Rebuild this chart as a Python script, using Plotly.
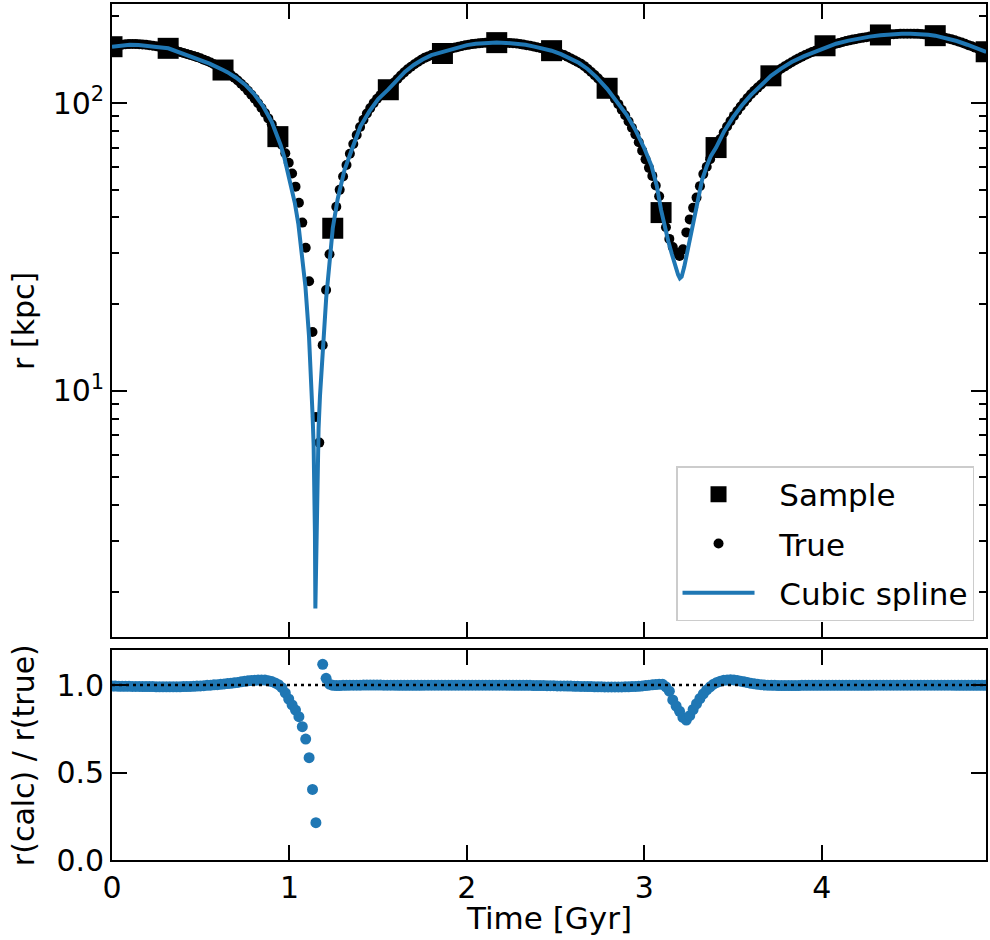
import numpy as np
import plotly.graph_objects as go

# ---------------- data ----------------
# sampled orbit points (squares)
sample_t = [0.000, 0.3165, 0.6256, 0.9348, 1.244, 1.557, 1.862, 2.168, 2.477,
            2.790, 3.094, 3.404, 3.713, 4.018, 4.330, 4.639, 4.926]
sample_r = [156.9, 154.9, 130.2, 76.4, 36.7, 111.2, 148.6, 162.1, 152.0,
            112.5, 41.6, 70.0, 124.3, 158.1, 172.4, 171.4, 150.7]

# true orbit radius at the (uniform) simulation output times
true_r = [
    158.0, 158.5, 159.0, 159.5, 160.0, 160.2, 160.3, 160.2, 160.0, 159.7,
    159.3, 158.8, 158.1, 157.4, 156.7, 155.9, 155.0, 154.0, 152.9, 151.7,
    150.5, 149.3, 148.1, 146.9, 145.7, 144.4, 143.0, 141.5, 139.9, 138.2,
    136.4, 134.5, 132.4, 130.1, 127.7, 125.2, 122.5, 119.7, 116.7, 113.6,
    110.3, 106.9, 103.4, 99.8, 96.1, 92.3, 88.4, 84.4, 80.3, 76.1,
    71.6, 66.9, 62.0, 56.9, 51.2, 45.0, 38.4, 31.4, 24.0, 16.0,
    8.1, 6.6, 14.4, 22.4, 29.8, 36.7, 43.6, 49.9, 55.5, 60.9,
    66.6, 72.0, 77.4, 82.5, 87.4, 91.9, 96.0, 99.9, 103.4, 106.5,
    109.4, 111.5, 114.4, 117.8, 121.2, 124.6, 127.8, 130.9, 133.7, 136.3,
    138.8, 141.4, 143.5, 145.2, 146.7, 148.3, 149.8, 151.2, 152.4, 153.6,
    154.7, 155.8, 156.8, 157.8, 158.7, 159.4, 160.2, 160.7, 161.2, 161.7,
    162.0, 162.1, 162.2, 162.2, 162.2, 162.0, 161.8, 161.6, 161.4, 160.9,
    160.3, 159.6, 158.9, 158.1, 157.2, 156.2, 155.2, 154.2, 153.4, 152.1,
    150.7, 149.3, 147.9, 146.7, 144.9, 142.9, 140.9, 138.8, 136.9, 134.3,
    131.2, 128.2, 125.0, 121.8, 118.5, 115.1, 111.4, 107.4, 103.3, 99.1,
    94.8, 90.6, 86.3, 82.0, 77.8, 73.0, 68.3, 63.7, 59.5, 55.8,
    51.7, 47.4, 42.6, 37.0, 33.7, 31.6, 30.2, 29.4, 31.0, 35.5,
    39.4, 43.2, 46.9, 51.4, 56.6, 60.0, 63.8, 67.4, 71.0, 75.0,
    78.9, 82.8, 86.5, 90.2, 93.8, 97.3, 100.7, 104.0, 107.2, 110.2,
    113.1, 116.0, 118.9, 121.6, 124.3, 126.9, 129.4, 131.8, 134.1, 136.3,
    138.6, 140.8, 142.9, 144.9, 146.8, 148.6, 150.3, 151.9, 153.5, 155.0,
    156.5, 158.0, 159.3, 160.6, 161.8, 163.0, 164.1, 165.1, 166.1, 167.0,
    167.9, 168.7, 169.4, 170.1, 170.8, 171.4, 171.9, 172.4, 172.8, 173.2,
    173.5, 173.8, 174.0, 174.1, 174.2, 174.2, 174.1, 173.9, 173.6, 173.2,
    172.7, 172.1, 171.4, 170.6, 169.7, 168.7, 167.6, 166.4, 165.1, 163.7,
    162.2, 160.6, 158.9, 157.5, 155.8, 154.0, 152.2, 150.4,
]

# r(calc)/r(true) at the same output times
ratio = [
    0.994, 0.994, 0.993, 0.993, 0.993, 0.993, 0.992, 0.992, 0.992, 0.991,
    0.991, 0.991, 0.991, 0.990, 0.990, 0.990, 0.990, 0.990, 0.990, 0.990,
    0.990, 0.991, 0.991, 0.992, 0.993, 0.994, 0.995, 0.996, 0.998, 0.999,
    1.001, 1.002, 1.004, 1.006, 1.008, 1.010, 1.013, 1.015, 1.018, 1.021,
    1.024, 1.026, 1.027, 1.028, 1.029, 1.028, 1.025, 1.020, 1.012, 1.002,
    0.985, 0.955, 0.920, 0.886, 0.857, 0.819, 0.762, 0.691, 0.585, 0.403,
    0.213, 1.350, 1.118, 1.038, 1.005, 0.998, 0.997, 0.997, 0.998, 0.998,
    0.999, 0.999, 0.999, 0.999, 1.000, 1.000, 1.000, 1.000, 1.000, 1.000,
    0.999, 0.999, 0.999, 0.999, 0.998, 0.998, 0.998, 0.998, 0.998, 0.998,
    0.998, 0.998, 0.999, 0.999, 0.999, 0.999, 0.999, 0.999, 0.999, 0.999,
    0.999, 0.999, 0.999, 0.999, 0.999, 0.999, 0.999, 0.999, 0.999, 0.999,
    0.999, 0.999, 0.999, 0.999, 0.999, 0.999, 0.999, 0.999, 0.998, 0.998,
    0.998, 0.998, 0.998, 0.998, 0.997, 0.997, 0.997, 0.997, 0.996, 0.996,
    0.996, 0.995, 0.995, 0.995, 0.994, 0.994, 0.993, 0.993, 0.992, 0.992,
    0.991, 0.991, 0.990, 0.990, 0.990, 0.989, 0.989, 0.989, 0.989, 0.989,
    0.989, 0.990, 0.990, 0.991, 0.992, 0.993, 0.995, 0.997, 0.999, 1.001,
    1.003, 1.005, 1.004, 0.990, 0.965, 0.915, 0.880, 0.850, 0.815, 0.800,
    0.825, 0.860, 0.893, 0.923, 0.950, 0.972, 0.990, 1.005, 1.015, 1.022,
    1.027, 1.029, 1.030, 1.029, 1.026, 1.022, 1.018, 1.014, 1.010, 1.007,
    1.004, 1.002, 1.000, 0.999, 0.998, 0.998, 0.997, 0.997, 0.997, 0.997,
    0.997, 0.997, 0.997, 0.998, 0.998, 0.998, 0.998, 0.998, 0.998, 0.998,
    0.998, 0.998, 0.998, 0.998, 0.998, 0.998, 0.998, 0.998, 0.998, 0.998,
    0.998, 0.998, 0.998, 0.998, 0.999, 0.999, 0.999, 0.999, 0.999, 0.999,
    0.999, 0.999, 0.999, 0.999, 0.999, 0.999, 0.999, 0.999, 0.999, 0.999,
    0.999, 0.999, 0.999, 0.999, 0.999, 0.999, 0.999, 0.999, 0.998, 0.998,
    0.998, 0.998, 0.998, 0.998, 0.998, 0.998, 0.998, 0.998,
]

# uniform output cadence of the simulation (first to last output time)
time = np.linspace(0.0, 4.9216, len(true_r))

# cubic-spline curve as drawn in the picture
spline_t = [0.000, 0.050, 0.100, 0.150, 0.200, 0.250, 0.317, 0.350, 0.400, 0.450,
            0.500, 0.550, 0.626, 0.650, 0.700, 0.750, 0.800, 0.850, 0.900, 0.935,
            0.950, 0.970, 0.990, 1.010, 1.030, 1.050, 1.070, 1.090, 1.110, 1.120,
            1.130, 1.136, 1.140, 1.1435, 1.146, 1.1525, 1.158, 1.164, 1.172, 1.183,
            1.193, 1.207, 1.225, 1.244, 1.272, 1.310, 1.350, 1.400, 1.450, 1.500,
            1.557, 1.600, 1.650, 1.700, 1.750, 1.800, 1.862, 1.900, 1.950, 2.000,
            2.050, 2.100, 2.168, 2.220, 2.280, 2.330, 2.380, 2.430, 2.477, 2.530,
            2.580, 2.630, 2.680, 2.730, 2.790, 2.850, 2.900, 2.950, 3.000, 3.040,
            3.070, 3.094, 3.115, 3.135, 3.155, 3.175, 3.190, 3.200, 3.210, 3.225,
            3.240, 3.260, 3.280, 3.300, 3.325, 3.350, 3.375, 3.404, 3.450, 3.500,
            3.550, 3.600, 3.650, 3.713, 3.770, 3.830, 3.900, 3.960, 4.018, 4.080,
            4.150, 4.210, 4.270, 4.330, 4.390, 4.450, 4.500, 4.550, 4.600, 4.639,
            4.700, 4.760, 4.820, 4.870, 4.926]
spline_r = [157.0, 158.5, 159.3, 159.2, 158.3, 156.6, 154.9, 152.3, 148.3, 144.6,
            141.0, 137.0, 130.2, 128.0, 122.4, 115.8, 107.6, 97.8, 86.0, 76.4,
            71.5, 65.0, 58.0, 51.5, 45.0, 38.0, 30.5, 23.0, 15.5, 11.8,
            8.3, 6.5, 5.0, 3.2, 1.75, 3.2, 5.4, 7.4, 9.6, 12.8,
            16.0, 21.0, 27.5, 36.7, 46.5, 58.5, 68.5, 83.0, 93.5, 103.2,
            111.5, 119.5, 128.3, 135.6, 141.7, 146.6, 150.3, 153.6, 156.6, 158.9,
            160.6, 161.7, 162.2, 161.8, 160.8, 159.3, 157.0, 154.3, 152.0, 147.8,
            143.4, 138.0, 131.3, 123.0, 112.0, 100.5, 91.0, 80.5, 69.5, 60.5,
            51.5, 42.5, 37.0, 33.0, 29.8, 27.0, 25.3, 24.6, 24.9, 27.0,
            30.0, 35.0, 40.5, 46.5, 54.0, 60.0, 65.5, 70.0, 79.8, 89.3,
            98.2, 106.5, 114.5, 124.3, 131.7, 138.8, 145.5, 150.5, 156.5, 160.7,
            164.8, 167.8, 170.1, 172.0, 173.3, 174.0, 174.2, 173.7, 172.6, 171.4,
            168.3, 164.2, 159.4, 154.6, 150.4]

x_ticks = [0, 1, 2, 3, 4]
y_top_ticks = [10, 100]
y_top_labels = ["10<sup>1</sup>", "10<sup>2</sup>"]
y_top_minor = [2, 3, 4, 5, 6, 7, 8, 9, 20, 30, 40, 50, 60, 70, 80, 90, 200]
y_bot_ticks = [0.0, 0.5, 1.0]

# ---------------- styling ----------------
BLUE = "#1f77b4"
FONT = "DejaVu Sans"
FS = 30
NB = "\u00a0\u00a0"  # gap between legend symbol and text

fig = go.Figure()
fig.add_trace(go.Scatter(x=sample_t, y=sample_r, mode="markers", name=NB + "Sample",
                         legendgroup="a",
                         marker=dict(symbol="square", size=21, color="black"),
                         xaxis="x", yaxis="y"))
fig.add_trace(go.Scatter(x=time, y=true_r, mode="markers", name=NB + "True",
                         legendgroup="b",
                         marker=dict(symbol="circle", size=10, color="black"),
                         xaxis="x", yaxis="y"))
fig.add_trace(go.Scatter(x=spline_t, y=spline_r, mode="lines", name=NB + "Cubic spline",
                         legendgroup="c",
                         line=dict(color=BLUE, width=4),
                         xaxis="x", yaxis="y"))
fig.add_trace(go.Scatter(x=time, y=ratio, mode="markers", showlegend=False,
                         marker=dict(symbol="circle", size=11, color=BLUE),
                         xaxis="x2", yaxis="y2"))

common = dict(showline=True, linecolor="black", linewidth=1.6, mirror="ticks",
              ticks="inside", ticklen=15, tickwidth=1.6, tickcolor="black",
              showgrid=False, zeroline=False,
              tickfont=dict(family=FONT, size=FS, color="black"))

XMAX = 4.925
fig.update_layout(
    width=990, height=940,
    margin=dict(l=112, r=2, t=4, b=80),
    plot_bgcolor="white", paper_bgcolor="white",
    font=dict(family=FONT, size=FS, color="black"),
    xaxis=dict(domain=[0, 1], anchor="y", range=[0, XMAX], tickvals=x_ticks,
               showticklabels=False, **common),
    yaxis=dict(domain=[0.2605, 1.0], anchor="x", type="log",
               range=[0.1439, 2.3441], tickvals=y_top_ticks, ticktext=y_top_labels,
               minor=dict(tickvals=y_top_minor, ticks="inside", ticklen=7,
                          tickwidth=1.6, tickcolor="black"),
               **common),
    xaxis2=dict(domain=[0, 1], anchor="y2", range=[0, XMAX], tickvals=x_ticks,
                **common),
    yaxis2=dict(domain=[0, 0.2453], anchor="x2", range=[0, 1.2],
                tickvals=y_bot_ticks, tickformat=".1f", **common),
    legend=dict(x=0.9863, y=0.2792, xanchor="right", yanchor="bottom",
                bgcolor="white", bordercolor="#cccccc", borderwidth=1.5,
                font=dict(family=FONT, size=31, color="black"),
                itemwidth=72, traceorder="grouped", tracegroupgap=6),
    showlegend=True,
    shapes=[dict(type="line", xref="x2 domain", yref="y2", x0=0, x1=1, y0=1, y1=1,
                 line=dict(color="black", width=2.5, dash="3px,4px"), layer="above")],
    annotations=[
        dict(text="r [kpc]", xref="paper", yref="paper", x=-0.1005, y=0.630,
             textangle=-90, showarrow=False, xanchor="center", yanchor="middle",
             font=dict(family=FONT, size=FS, color="black")),
        dict(text="r(calc) / r(true)", xref="paper", yref="paper", x=-0.1005, y=0.1227,
             textangle=-90, showarrow=False, xanchor="center", yanchor="middle",
             font=dict(family=FONT, size=FS, color="black")),
        dict(text="Time [Gyr]", xref="paper", yref="paper", x=0.5, y=-0.0680,
             showarrow=False, xanchor="center", yanchor="middle",
             font=dict(family=FONT, size=31, color="black")),
    ],
)

fig.write_html("out.html")
